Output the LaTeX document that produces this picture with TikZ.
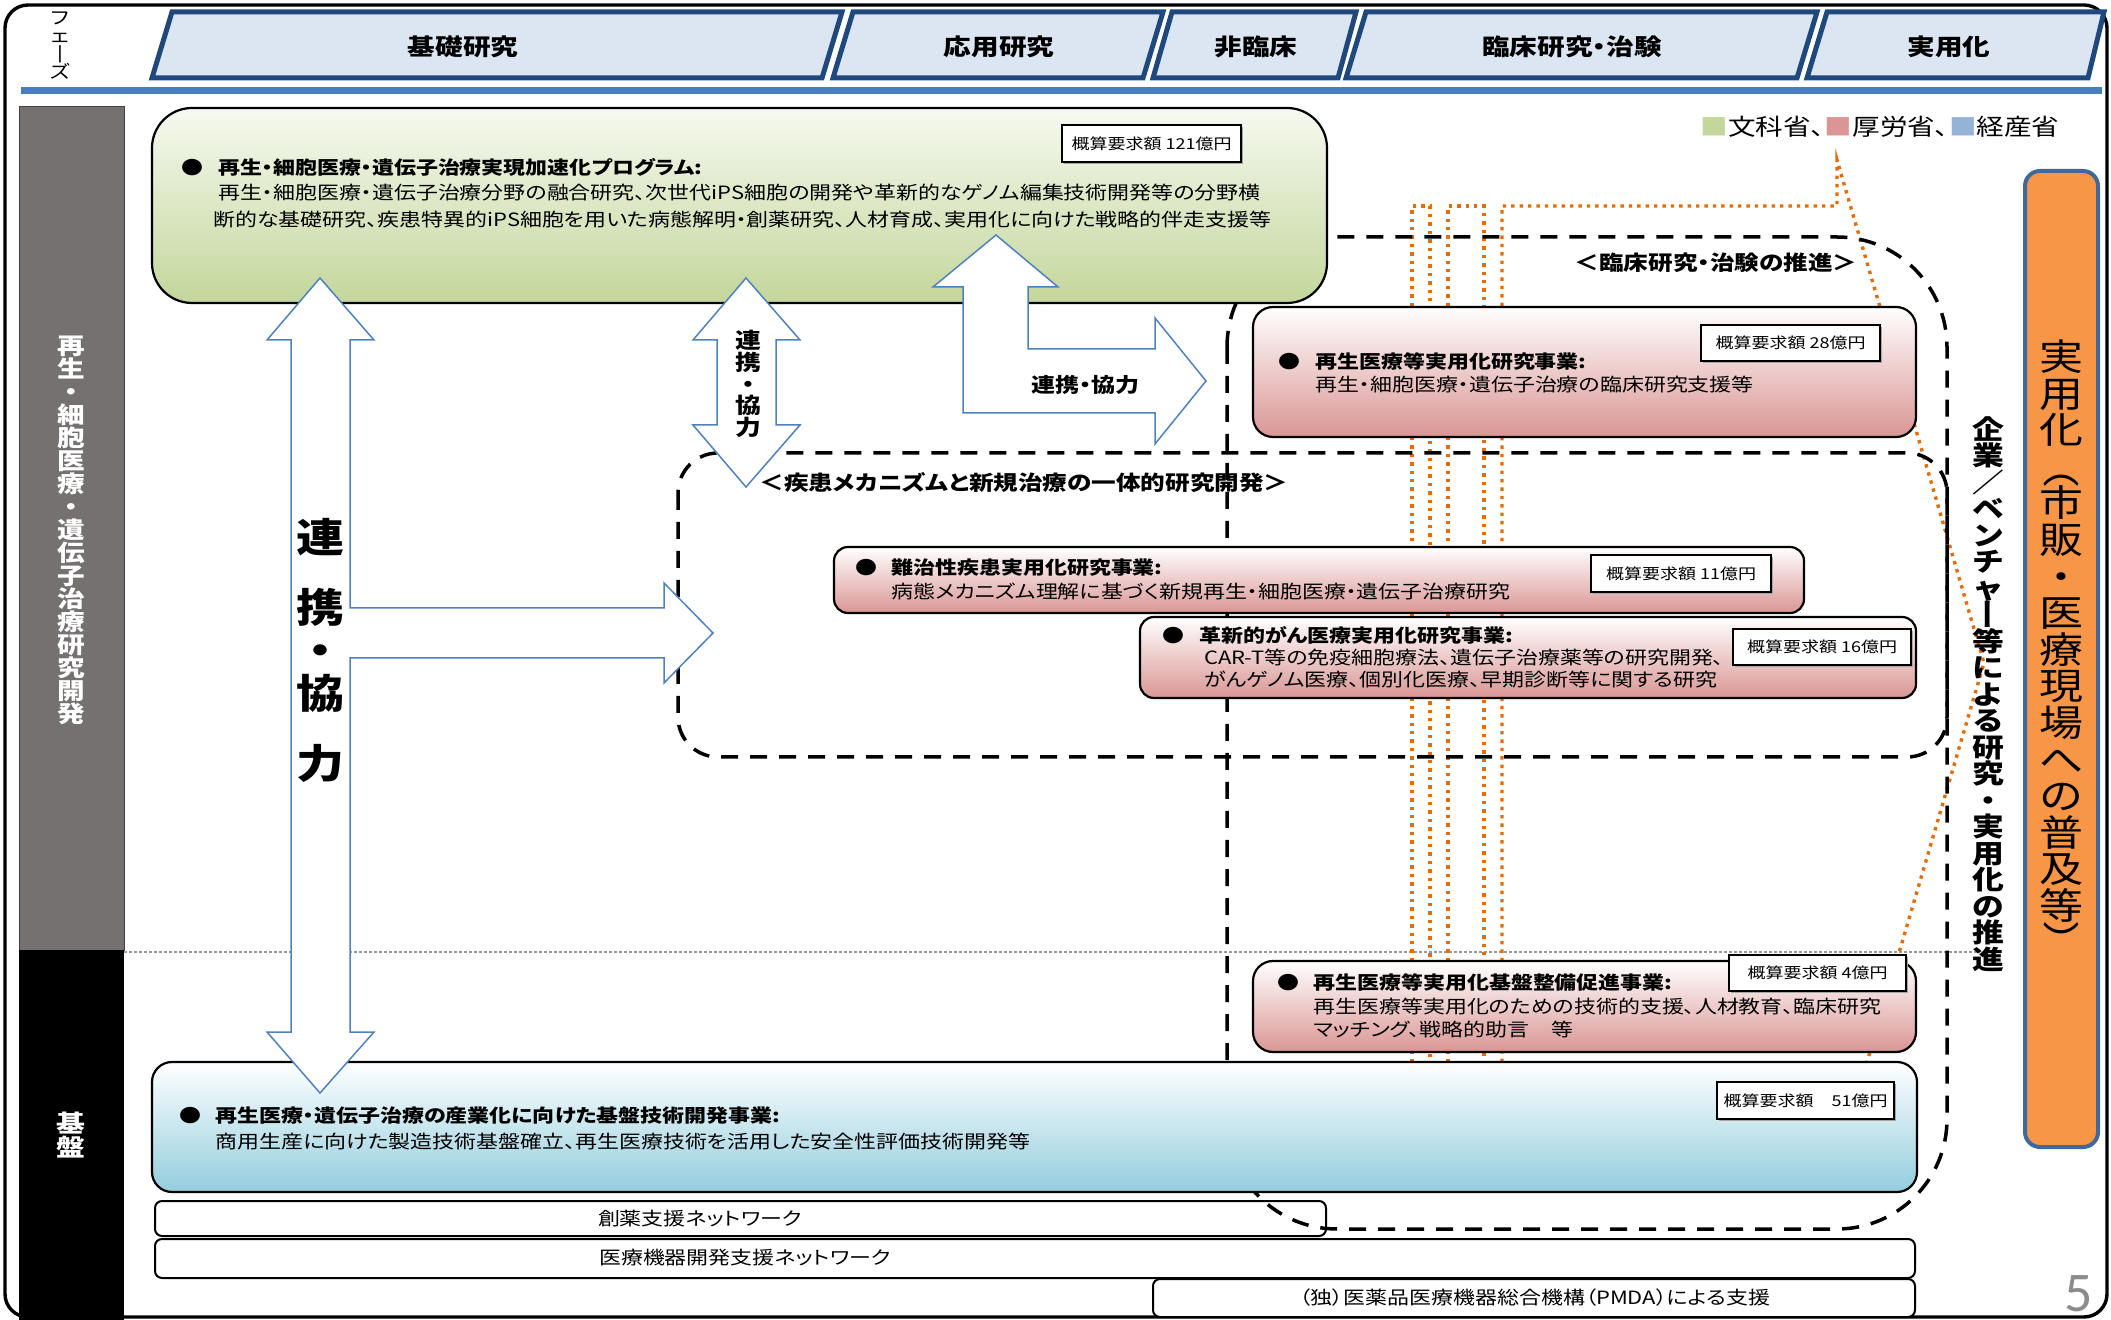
\documentclass[tikz,border=0pt]{standalone}
\usepackage{fontspec}
\newfontfamily\jp{Noto Sans CJK JP}[FakeStretch=1.2,RawFeature=+palt]
\newfontfamily\jpv{Noto Sans CJK JP}[FakeStretch=1.2]
\newfontfamily\numfont{Carlito}
\usetikzlibrary{fit}
\definecolor{hdrfill}{RGB}{220,230,242}
\definecolor{hdrline}{RGB}{31,73,125}
\definecolor{bandblue}{RGB}{74,126,187}
\definecolor{sidegray}{RGB}{118,113,113}
\definecolor{greenc}{RGB}{195,214,155}
\definecolor{greentop}{RGB}{246,249,240}
\definecolor{pinkc}{RGB}{217,150,148}
\definecolor{bluec}{RGB}{147,205,221}
\definecolor{legblue}{RGB}{149,179,215}
\definecolor{arrowblue}{RGB}{79,129,189}
\definecolor{orangec}{RGB}{247,150,70}
\definecolor{orangeline}{RGB}{228,108,10}
\definecolor{oboxline}{RGB}{65,104,155}
\definecolor{pagegray}{RGB}{140,140,140}
\newcommand\fs[2]{\fontsize{#1}{#2}\selectfont}
\newcommand\vertfont[1]{\jpv\fontsize{#1}{#1}\selectfont\lineskiplimit=-100pt\relax}
\newcommand\vrotch[1]{\smash{\rotatebox[origin=c]{-90}{\rule[-0.12em]{0pt}{1em}#1}}}
\newcommand\bulletbox[1]{\makebox[#1][l]{●}}
\tikzset{
  mainbox/.style={draw=black, line width=1.1pt, inner sep=0pt},
  gbox/.style={mainbox, rounded corners=20pt, top color=greentop, bottom color=greenc},
  pbox/.style={mainbox, rounded corners=10pt, top color=white, bottom color=pinkc},
  pboxs/.style={mainbox, rounded corners=7pt, top color=white, bottom color=pinkc},
  bbox/.style={mainbox, rounded corners=10pt, top color=white, bottom color=bluec},
  amtbox/.style={draw=black, line width=0.8pt, fill=white, inner sep=0pt, font=\jp\fs{7.5pt}{9pt}},
  amtshadow/.style={fill=black!35, inner sep=0pt},
  netbar/.style={draw=black, line width=1pt, fill=white, rounded corners=3.5pt, inner sep=0pt},
  bodytxt/.style={anchor=west, inner sep=0pt, font=\jp\fs{9.15pt}{11pt}},
  titletxt/.style={anchor=west, inner sep=0pt, font=\jp\bfseries\fs{9.15pt}{11pt}},
  hdr/.style={draw=hdrline, line width=2.5pt, fill=hdrfill, line join=miter},
  hdrtxt/.style={inner sep=0pt, font=\jp\bfseries\fs{11.5pt}{13pt}},
  dashbox/.style={draw=black, line width=1.75pt, dash pattern=on 8.5pt off 6pt},
  odot/.style={draw=orangeline, line width=1.7pt, dash pattern=on 1.7pt off 2.5pt},
  blockarrow/.style={draw=arrowblue, line width=0.75pt, fill=white, line join=miter},
  vstack/.style={align=center, inner sep=0pt},
  labeltxt/.style={inner sep=0pt, font=\jp\bfseries\fs{10.25pt}{12pt}},
}
\begin{document}
\begin{tikzpicture}[x=0.5pt,y=-0.5pt]
\useasboundingbox (0,0) rectangle (2111,1320);
% outer frame
\draw[line width=1.7pt, rounded corners=11.5pt] (5,5) rectangle (2107,1317);
% phase header
\node[vstack, font=\vertfont{9pt}] (phase) at (60,46) {フ\\ェ\\\vrotch{ー}\\ズ};
\draw[hdr] (152,78) -- (172,12) -- (842,12) -- (822,78) -- cycle;
\draw[hdr] (833,78) -- (853,12) -- (1163,12) -- (1143,78) -- cycle;
\draw[hdr] (1153,78) -- (1172,12) -- (1356,12) -- (1338,78) -- cycle;
\draw[hdr] (1346,78) -- (1366,12) -- (1817,12) -- (1797,78) -- cycle;
\draw[hdr] (1807,78) -- (1827,12) -- (2104,12) -- (2088,78) -- cycle;
\node[hdrtxt] (ph1) at (463,47) {基礎研究};
\node[hdrtxt] (ph2) at (999,47) {応用研究};
\node[hdrtxt] (ph3) at (1256,47) {非臨床};
\node[hdrtxt] (ph4) at (1572,47) {臨床研究・治験};
\node[hdrtxt] (ph5) at (1949,47) {実用化};
\fill[bandblue] (21,87) rectangle (2102,94);
% side bar
\filldraw[fill=sidegray, draw=black!75, line width=0.5pt] (19,107) rectangle (124,950);
\fill[black] (19,950) rectangle (124,1320);
\node[vstack, font=\vertfont{11.5pt}\bfseries, text=white] (sidetxt) at (71,530)
  {再\\生\\・\\細\\胞\\医\\療\\・\\遺\\伝\\子\\治\\療\\研\\究\\開\\発};
\node[vstack, font=\vertfont{12pt}\bfseries, text=white] (kiban) at (71,1135) {基\\盤};
\draw[black!40, line width=0.8pt, dash pattern=on 1.5pt off 1pt] (124,952) -- (1980,952);
% orange dotted lines
\draw[odot] (1412,1062) -- (1412,206) -- (1430,206) -- (1430,1062);
\draw[odot] (1448,1062) -- (1448,206) -- (1484,206) -- (1484,1062);
\draw[odot] (1502,1062) -- (1502,206) -- (1837,206) -- (1837,160) -- (1984,663) -- (1867,1062);
% network bars
\node[netbar, fit={(155,1201) (1326,1236)}] (net1) {};
\node[netbar, fit={(155,1239) (1915,1278)}] (net2) {};
\node[netbar, fit={(1153,1279) (1915,1317)}] (net3) {};
\node[bodytxt, anchor=center] (net1t) at (700,1219) {創薬支援ネットワーク};
\node[bodytxt, anchor=center] (net2t) at (745,1258) {医療機器開発支援ネットワーク};
\node[bodytxt, anchor=center] (net3t) at (1535,1298) {（独）医薬品医療機器総合機構（PMDA）による支援};
% dashed groups
\draw[dashbox, rounded corners=55pt] (1227,237) rectangle (1947,1229);
\draw[dashbox, rounded corners=20pt] (678,453) rectangle (1947,757);
\node[labeltxt] (lab1) at (1716,263) {＜臨床研究・治験の推進＞};
\node[labeltxt] (lab2) at (1024,483) {＜疾患メカニズムと新規治療の一体的研究開発＞};
% green box
\node[gbox, fit={(152,108) (1327,303)}] (gb) {};
\node[titletxt] (gbt) at (181,167) {\bulletbox{18.5pt}再生・細胞医療・遺伝子治療実現加速化プログラム:};
\node[bodytxt] (gbd1) at (218,193) {再生・細胞医療・遺伝子治療分野の融合研究、次世代iPS細胞の開発や革新的なゲノム編集技術開発等の分野横};
\node[bodytxt] (gbd2) at (213,220) {断的な基礎研究、疾患特異的iPS細胞を用いた病態解明・創薬研究、人材育成、実用化に向けた戦略的伴走支援等};
\node[amtshadow, minimum width=89.5pt, minimum height=18.5pt] (gbas) at (1153.5,145.5) {};
\node[amtbox, minimum width=89.5pt, minimum height=18.5pt] (gba) at (1151.5,143.5) {概算要求額 121億円};
% pink box 1
\node[pbox, fit={(1253,307) (1916,437)}] (pb1) {};
\node[titletxt] (pb1t) at (1278,362) {\bulletbox{18.5pt}再生医療等実用化研究事業:};
\node[bodytxt] (pb1d) at (1315,385) {再生・細胞医療・遺伝子治療の臨床研究支援等};
\node[amtshadow, minimum width=89.5pt, minimum height=18pt] (pb1as) at (1792.5,345) {};
\node[amtbox, minimum width=89.5pt, minimum height=18pt] (pb1a) at (1790.5,343) {概算要求額 28億円};
% pink box 2
\node[pboxs, fit={(834,547) (1804,613)}] (pb2) {};
\node[titletxt] (pb2t) at (855,568) {\bulletbox{18pt}難治性疾患実用化研究事業:};
\node[bodytxt] (pb2d) at (891,592) {病態メカニズム理解に基づく新規再生・細胞医療・遺伝子治療研究};
\node[amtshadow, minimum width=90pt, minimum height=18.5pt] (pb2as) at (1683,575.5) {};
\node[amtbox, minimum width=90pt, minimum height=18.5pt] (pb2a) at (1681,573.5) {概算要求額 11億円};
% pink box 3
\node[pboxs, fit={(1140,617) (1916,698)}] (pb3) {};
\node[titletxt] (pb3t) at (1162,635) {\bulletbox{18.5pt}革新的がん医療実用化研究事業:};
\node[bodytxt] (pb3d1) at (1204,658) {CAR-T等の免疫細胞療法、遺伝子治療薬等の研究開発、};
\node[bodytxt] (pb3d2) at (1204,680) {がんゲノム医療、個別化医療、早期診断等に関する研究};
\node[amtshadow, minimum width=89pt, minimum height=18pt] (pb3as) at (1824,649) {};
\node[amtbox, minimum width=89pt, minimum height=18pt] (pb3a) at (1822,647) {概算要求額 16億円};
% pink box 4
\node[pbox, fit={(1253,961) (1916,1052)}] (pb4) {};
\node[titletxt] (pb4t) at (1277,983) {\bulletbox{18pt}再生医療等実用化基盤整備促進事業:};
\node[bodytxt] (pb4d1) at (1313,1007) {再生医療等実用化のための技術的支援、人材教育、臨床研究};
\node[bodytxt] (pb4d2) at (1313,1030) {マッチング、戦略的助言　等};
\node[amtshadow, minimum width=88.5pt, minimum height=18pt] (pb4as) at (1819.5,975) {};
\node[amtbox, minimum width=88.5pt, minimum height=18pt] (pb4a) at (1817.5,973) {概算要求額 4億円};
% blue box
\node[bbox, fit={(152,1062) (1917,1192)}] (bb) {};
\node[titletxt] (bbt) at (179,1116) {\bulletbox{18pt}再生医療・遺伝子治療の産業化に向けた基盤技術開発事業:};
\node[bodytxt] (bbd) at (215,1142) {商用生産に向けた製造技術基盤確立、再生医療技術を活用した安全性評価技術開発等};
\node[amtshadow, minimum width=88.5pt, minimum height=18.5pt] (bbas) at (1807.5,1102.5) {};
\node[amtbox, minimum width=88.5pt, minimum height=18.5pt] (bba) at (1805.5,1100.5) {概算要求額　51億円};
% block arrows
\draw[blockarrow] (320,278) -- (374,340) -- (350,340) -- (350,608) -- (664,608) -- (664,583)
  -- (713,633) -- (664,683) -- (664,658) -- (350,658) -- (350,1032) -- (374,1032)
  -- (320,1093) -- (267,1032) -- (291,1032) -- (291,340) -- (267,340) -- cycle;
\node[vstack, font=\vertfont{20pt}\bfseries\fontsize{20pt}{21.5pt}\selectfont] (bigtxt) at (320,650)
  {連\\[13.5pt]携\\・\\協\\[13.5pt]力};
\draw[blockarrow] (746,278) -- (800,340) -- (776,340) -- (776,425) -- (800,425) -- (746,487)
  -- (693,425) -- (717,425) -- (717,340) -- (693,340) -- cycle;
\node[vstack, font=\vertfont{10.75pt}\bfseries\fontsize{10.75pt}{10.9pt}\selectfont] (smalltxt) at (748,384)
  {連\\携\\・\\協\\力};
\draw[blockarrow] (996,235) -- (1058,287) -- (1028,287) -- (1028,349) -- (1155,349) -- (1155,318)
  -- (1206,381) -- (1155,444) -- (1155,413) -- (963,413) -- (963,287) -- (933,287) -- cycle;
\node[inner sep=0pt, font=\jp\bfseries\fs{10pt}{12pt}] (benttxt) at (1085,385) {連携・協力};
% legend
\node[inner sep=0pt, font=\jp\fs{11.5pt}{13pt}] (legend) at (1880,127)
  {{\color{greenc}■}文科省、{\color{pinkc}■}厚労省、{\color{legblue}■}経産省};
% right side
\node[fit={(2025,171) (2098,1147)}, draw=oboxline, line width=2pt, fill=orangec, rounded corners=7.5pt, inner sep=0pt] (obx) {};
\node[vstack, font=\vertfont{18.3pt}] (obxt) at (2061,648)
  {実\\用\\化\\\vrotch{（}\\市\\販\\・\\医\\療\\現\\場\\へ\\の\\普\\及\\等\\\vrotch{）}};
\node[vstack, font=\vertfont{13.25pt}\bfseries] (kigyo) at (1988,694)
  {企\\業\\／\\ベ\\ン\\チ\\ャ\\\vrotch{ー}\\等\\に\\よ\\る\\研\\究\\・\\実\\用\\化\\の\\推\\進};
\node[inner sep=0pt, font=\numfont\fs{28pt}{30pt}, text=pagegray] (pageno) at (2079,1294) {5};
\end{tikzpicture}
\end{document}
